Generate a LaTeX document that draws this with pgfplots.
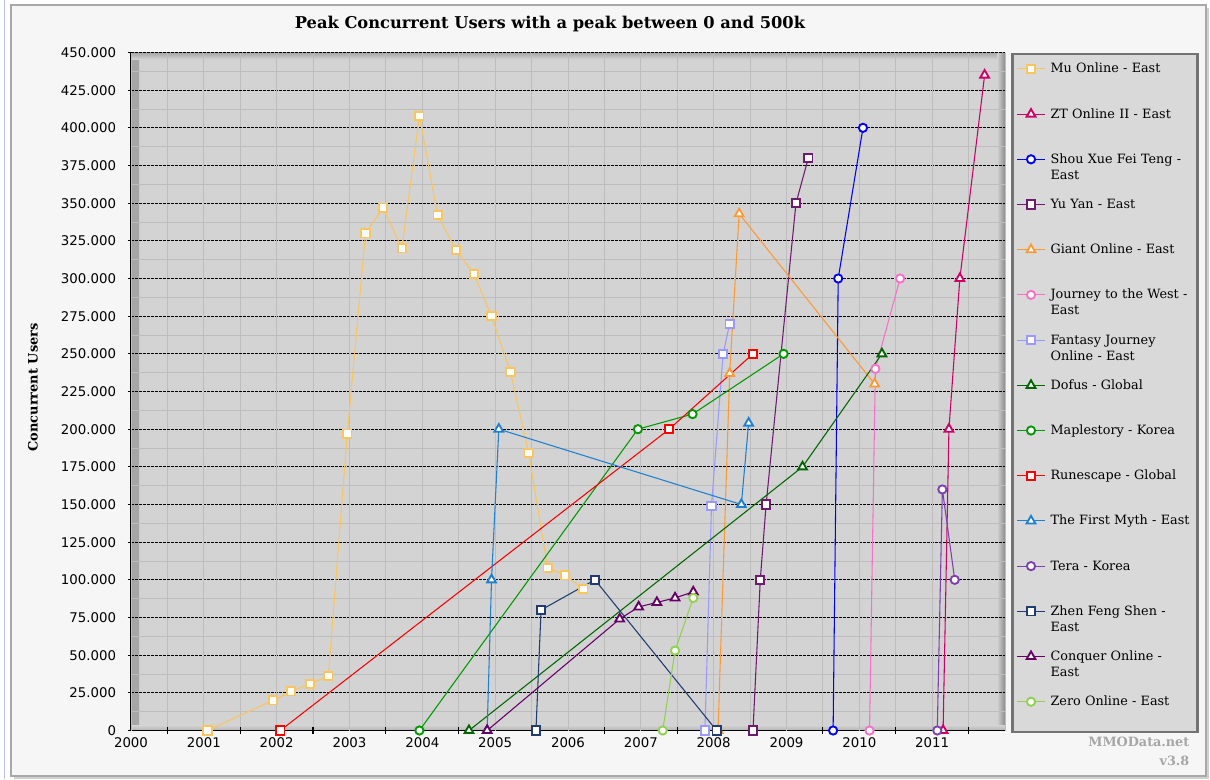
\documentclass[border=0pt]{standalone}
\usepackage{pgfplots}
\pgfplotsset{compat=1.18}
\usepackage{fontspec}
\setmainfont{DejaVu Serif}
\newfontfamily\tickfont{DejaVu Sans}
\definecolor{plotbg}{HTML}{D3D3D3}
\definecolor{legbg}{HTML}{D9D9D9}
\definecolor{outerbg}{HTML}{F6F6F6}
\definecolor{framegray}{HTML}{A8A8A8}
\definecolor{gridgray}{HTML}{BDBDBD}
\definecolor{cMu}{HTML}{F8C55E}
\definecolor{cZT}{HTML}{CC0066}
\definecolor{cShou}{HTML}{0000FF}
\definecolor{cYu}{HTML}{6E1A6E}
\definecolor{cGiant}{HTML}{FF9933}
\definecolor{cJourney}{HTML}{F870C8}
\definecolor{cFantasy}{HTML}{9999FF}
\definecolor{cDofus}{HTML}{006600}
\definecolor{cMaple}{HTML}{009900}
\definecolor{cRune}{HTML}{FF0000}
\definecolor{cMyth}{HTML}{1F7FD0}
\definecolor{cTera}{HTML}{7F3FAF}
\definecolor{cZhen}{HTML}{203C70}
\definecolor{cConquer}{HTML}{660066}
\definecolor{cZero}{HTML}{92D050}
\begin{document}
\begin{tikzpicture}[x=0.75pt,y=0.75pt]
\fill[white] (0,0) rectangle (1210,778);
\fill[black!18] (14,0) rectangle (1209,770);
\draw[color=blue!25, line width=0.75pt] (4,0) -- (4,778);
\filldraw[fill=outerbg, draw=framegray, line width=1.5pt] (11,3) rectangle (1206,773);
\node[anchor=east, font=\bfseries\fontsize{9.6}{10}\selectfont, text=black!35] at (1194,37) {MMOData.net};
\node[anchor=east, font=\bfseries\fontsize{9.6}{10}\selectfont, text=black!35] at (1194,18) {v3.8};
\begin{axis}[
  at={(98.25pt,36pt)}, anchor=south west,
  scale only axis, width=655.5pt, height=508.5pt,
  xmin=2000, xmax=2012, ymin=0, ymax=450000,
  scaled y ticks=false, scaled x ticks=false,
  clip=false,
  axis lines=left, axis line style={-, black, line width=1pt},
  axis background/.style={fill=plotbg, path picture={
     \shade[left color=black!35, right color=plotbg] (path picture bounding box.south west) rectangle ([xshift=6pt]path picture bounding box.north west);
     \shade[top color=black!35, bottom color=plotbg] (path picture bounding box.north west) rectangle ([yshift=-5pt]path picture bounding box.north east);
     \shade[right color=black!45, left color=plotbg] ([xshift=-6pt]path picture bounding box.south east) rectangle (path picture bounding box.north east);
     \shade[bottom color=black!30, top color=plotbg] (path picture bounding box.south west) rectangle ([yshift=4pt]path picture bounding box.south east);
  }},
  xtick={2000.5,2001.5,...,2011.5}, xticklabels={},
  extra x ticks={2000,2001,2002,2003,2004,2005,2006,2007,2008,2009,2010,2011,2012},
  extra x tick labels={2000,2001,2002,2003,2004,2005,2006,2007,2008,2009,2010,2011,},
  extra x tick style={major tick length=0pt, grid=major},
  ytick={0,25000,...,450000},
  yticklabels={0,25.000,50.000,75.000,100.000,125.000,150.000,175.000,200.000,225.000,250.000,275.000,300.000,325.000,350.000,375.000,400.000,425.000,450.000},
  minor ytick={12500,37500,...,437500},
  xmajorgrids, ymajorgrids, yminorgrids,
  major x grid style={gridgray, solid, line width=0.75pt},
  major y grid style={black, dash pattern=on 2pt off 1pt, line width=0.75pt},
  minor y grid style={gridgray, solid, line width=0.75pt},
  tick align=center, major tick length=5.25pt, minor tick length=0pt,
  tick style={black, line width=0.9pt},
  tick label style={font=\tickfont\fontsize{10}{12}\selectfont, /pgf/number format/assume math mode=true},
  yticklabel style={xshift=-5pt},
  xticklabel style={yshift=-2pt},
  title={Peak Concurrent Users with a peak between 0 and 500k},
  title style={at={(axis description cs:0.4794,1.0295)}, anchor=center, font=\bfseries\fontsize{12.2}{14}\selectfont},
  ylabel={Concurrent Users},
  ylabel style={at={(axis description cs:-0.1121,0.506)}, anchor=center, font=\bfseries\fontsize{9.7}{11}\selectfont},
  every axis plot/.append style={line width=0.8pt},
  every axis plot post/.append style={mark options={solid, fill=white, line width=1.4pt}},
  legend image code/.code={\draw[mark repeat=2,mark phase=2,#1] plot coordinates {(0pt,3pt) (10.5pt,3pt) (21pt,3pt)};},
  legend style={at={(axis description cs:1.00686,1)}, anchor=north west,
     fill=legbg, draw=black!55, line width=2.2pt,
     inner xsep=3pt, inner ysep=0pt, column sep=3.75pt, row sep=0pt,
     cells={anchor=base west},
     nodes={anchor=base west, inner sep=0pt, text height=14.2pt, text depth=19.7pt, text width=107pt, align=left, line width=0.4pt},
     font=\fontsize{9.6}{12}\selectfont},
]
\addplot[color=cMu, mark=square*, mark size=3.1pt] coordinates {
(2001.05,0) (2001.95,20000) (2002.2,26000) (2002.46,31000) (2002.71,36000) (2002.97,197000) (2003.22,330000) (2003.46,347000) (2003.72,320000) (2003.96,408000) (2004.21,342000) (2004.46,319000) (2004.71,303000) (2004.95,275000) (2005.21,238000) (2005.46,184000) (2005.72,108000) (2005.96,103000) (2006.21,94000)};
\addlegendentry{Mu Online - East}
\addplot[color=cZT, mark=triangle*, mark size=3.8pt] coordinates {
(2011.15,0) (2011.23,200000) (2011.38,300000) (2011.72,435000)};
\addlegendentry{ZT Online II - East}
\addplot[color=cShou, mark=*, mark size=3.1pt] coordinates {
(2009.64,0) (2009.71,300000) (2010.05,400000)};
\addlegendentry{Shou Xue Fei Teng -\\East}
\addplot[color=cYu, mark=square*, mark size=3.1pt] coordinates {
(2008.54,0) (2008.64,100000) (2008.72,150000) (2009.13,350000) (2009.30,380000)};
\addlegendentry{Yu Yan - East}
\addplot[color=cGiant, mark=triangle*, mark size=3.8pt] coordinates {
(2008.06,0) (2008.22,237000) (2008.35,343000) (2010.21,230000)};
\addlegendentry{Giant Online - East}
\addplot[color=cJourney, mark=*, mark size=3.1pt] coordinates {
(2010.14,0) (2010.22,240000) (2010.56,300000)};
\addlegendentry{Journey to the West -\\East}
\addplot[color=cFantasy, mark=square*, mark size=3.1pt] coordinates {
(2007.88,0) (2007.97,149000) (2008.13,250000) (2008.22,270000)};
\addlegendentry{Fantasy Journey\\Online - East}
\addplot[color=cDofus, mark=triangle*, mark size=3.8pt] coordinates {
(2004.64,0) (2009.22,175000) (2010.31,250000)};
\addlegendentry{Dofus - Global}
\addplot[color=cMaple, mark=*, mark size=3.1pt] coordinates {
(2003.96,0) (2006.96,200000) (2007.71,210000) (2008.96,250000)};
\addlegendentry{Maplestory - Korea}
\addplot[color=cRune, mark=square*, mark size=3.1pt] coordinates {
(2002.05,0) (2007.39,200000) (2008.54,250000)};
\addlegendentry{Runescape - Global}
\addplot[color=cMyth, mark=triangle*, mark size=3.8pt] coordinates {
(2004.89,0) (2004.95,100000) (2005.05,200000) (2008.38,150000) (2008.48,204000)};
\addlegendentry{The First Myth - East}
\addplot[color=cTera, mark=*, mark size=3.1pt] coordinates {
(2011.07,0) (2011.14,160000) (2011.31,100000)};
\addlegendentry{Tera - Korea}
\addplot[color=cZhen, mark=square*, mark size=3.1pt] coordinates {
(2005.56,0) (2005.63,80000) (2006.37,100000) (2008.04,0)};
\addlegendentry{Zhen Feng Shen -\\East}
\addplot[color=cConquer, mark=triangle*, mark size=3.8pt] coordinates {
(2004.89,0) (2006.71,74000) (2006.97,82000) (2007.22,85000) (2007.47,88000) (2007.72,92000)};
\addlegendentry{Conquer Online -\\East}
\addplot[color=cZero, mark=*, mark size=3.1pt] coordinates {
(2007.30,0) (2007.47,53000) (2007.72,88000)};
\addlegendentry{Zero Online - East}
\end{axis}
\end{tikzpicture}
\end{document}
